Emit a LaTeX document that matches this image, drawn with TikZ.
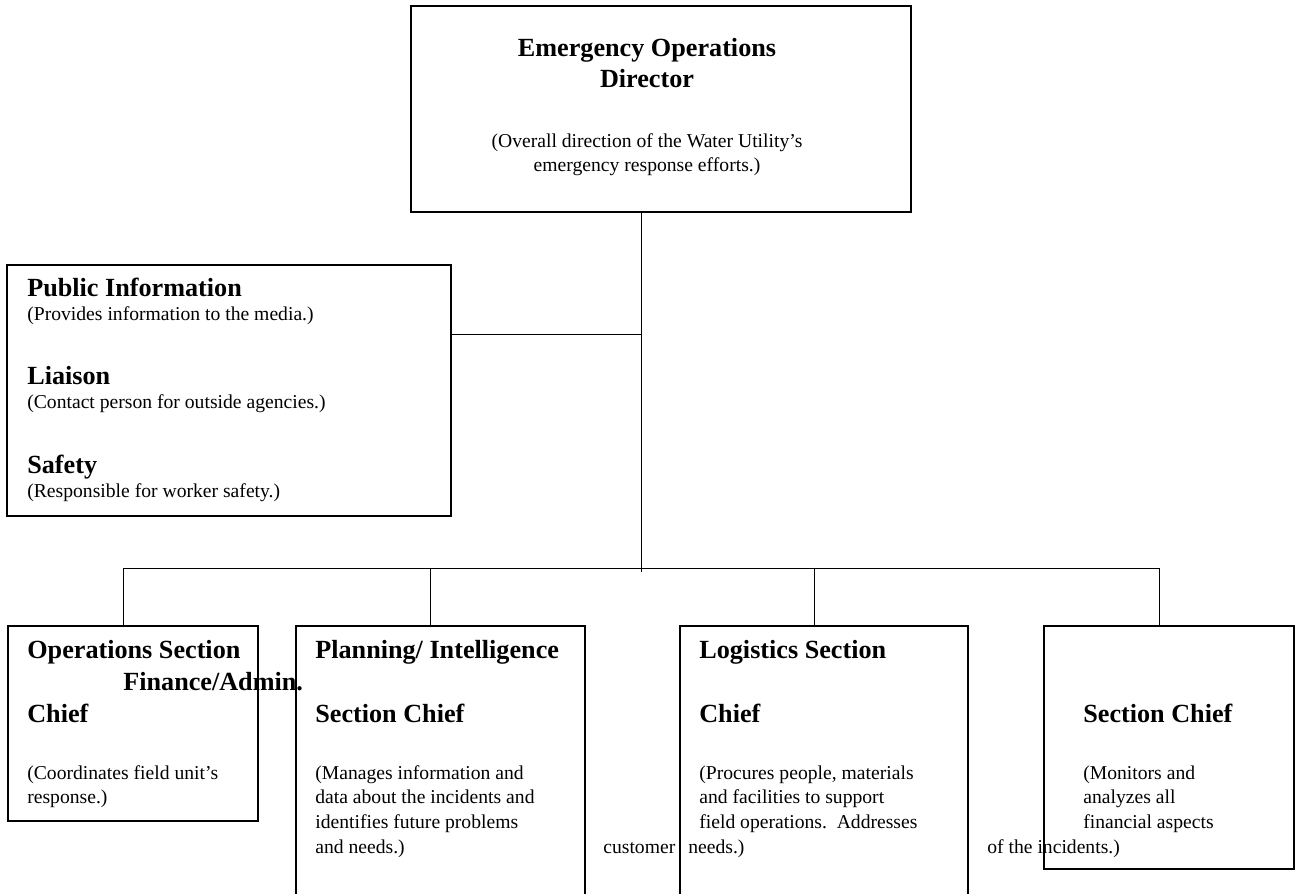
\documentclass[tikz,border=0pt]{standalone}
\usepackage{fontspec}
\setmainfont{Liberation Serif}
\begin{document}
\begin{tikzpicture}[x=0.6111pt,y=-0.6111pt,
  box/.style={draw, line width=1.2pt, inner sep=0pt, rectangle},
  link/.style={draw, line width=0.6pt},
  ttl/.style={anchor=base west, inner sep=0pt, font=\fontsize{16}{18}\selectfont\bfseries},
  txt/.style={anchor=base west, inner sep=0pt, font=\fontsize{12}{14}\selectfont}]
\useasboundingbox (0,0) rectangle (1296,894);
\clip (0,0) rectangle (1296,894);
% boxes
\node[box, minimum width=305.55pt, minimum height=125.89pt] (dir) at (661,109) {};
\node[box, minimum width=271.33pt, minimum height=153.39pt] (side) at (229,390.5) {};
\node[box, minimum width=152.78pt, minimum height=119.16pt] (b1) at (133,723.5) {};
\node[box, minimum width=176.61pt, minimum height=167.44pt] (b2) at (440.5,763) {};
\node[box, minimum width=176.00pt, minimum height=167.44pt] (b3) at (824,763) {};
\node[box, minimum width=152.78pt, minimum height=148.50pt] (b4) at (1169,747.5) {};
% connectors
\coordinate (j1) at (641,334);
\coordinate (tail) at (641,572);
\coordinate (h1) at (123,568);
\coordinate (h2) at (430,568);
\coordinate (h3) at (814,568);
\coordinate (h4) at (1159,568);
\draw[link] (j1 |- dir.south) -- (tail);
\draw[link] (side.east |- j1) -- (j1);
\draw[link] (h1) -- (h4);
\draw[link] (h1) -- (h1 |- b1.north);
\draw[link] (h2) -- (h2 |- b2.north);
\draw[link] (h3) -- (h3 |- b3.north);
\draw[link] (h4) -- (h4 |- b4.north);
% director
\node[ttl, anchor=base] (d1) at (647,57) {Emergency Operations};
\node[ttl, anchor=base] (d2) at (647,88) {Director};
\node[txt, anchor=base] (d3) at (647,148) {(Overall direction of the Water Utility’s};
\node[txt, anchor=base] (d4) at (647,172) {emergency response efforts.)};
% side box
\node[ttl] (s1) at (27,297) {Public Information};
\node[txt] (s2) at (27,321) {(Provides information to the media.)};
\node[ttl] (s3) at (27,385) {Liaison};
\node[txt] (s4) at (27,409) {(Contact person for outside agencies.)};
\node[ttl] (s5) at (27,473) {Safety};
\node[txt] (s6) at (27,497) {(Responsible for worker safety.)};
% operations
\node[ttl] (o1) at (27,658) {Operations Section};
\node[ttl] (o2) at (27,722) {Chief};
\node[txt] (o3) at (27,779) {(Coordinates field unit’s};
\node[txt] (o4) at (27,803) {response.)};
\node[ttl] (f1) at (123,690) {Finance/Admin.};
% planning
\node[ttl] (p1) at (315,658) {Planning/ Intelligence};
\node[ttl] (p2) at (315,722) {Section Chief};
\node[txt] (p3) at (315,779) {(Manages information and};
\node[txt] (p4) at (315,803) {data about the incidents and};
\node[txt] (p5) at (315,828) {identifies future problems};
\node[txt] (p6) at (315,853) {and needs.)};
% logistics
\node[ttl] (l1) at (699,658) {Logistics Section};
\node[ttl] (l2) at (699,722) {Chief};
\node[txt] (l3) at (699,779) {(Procures people, materials};
\node[txt] (l4) at (699,803) {and facilities to support};
\node[txt] (l5) at (699,828) {field operations.\ \ Addresses};
\node[txt] (l6) at (603,853) {customer};
\node[txt] (l7) at (688,853) {needs.)};
% finance
\node[ttl] (f2) at (1083,722) {Section Chief};
\node[txt] (f3) at (1083,779) {(Monitors and};
\node[txt] (f4) at (1083,803) {analyzes all};
\node[txt] (f5) at (1083,828) {financial aspects};
\node[txt] (f6) at (987,853) {of the incidents.)};
\end{tikzpicture}
\end{document}
